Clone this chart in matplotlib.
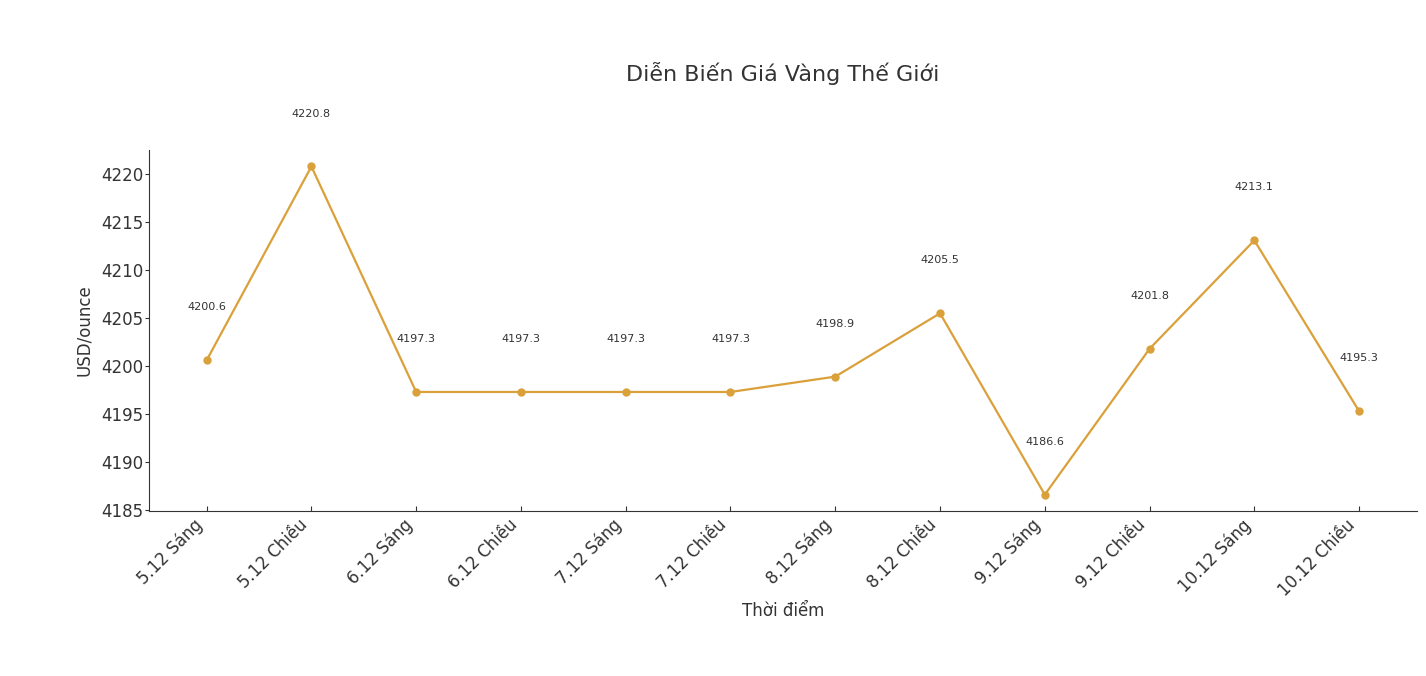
import matplotlib.pyplot as plt

labels = ["5.12 Sáng", "5.12 Chiều", "6.12 Sáng", "6.12 Chiều", "7.12 Sáng", "7.12 Chiều",
          "8.12 Sáng", "8.12 Chiều", "9.12 Sáng", "9.12 Chiều", "10.12 Sáng", "10.12 Chiều"]
prices = [4200.6, 4220.8, 4197.3, 4197.3, 4197.3, 4197.3,
          4198.9, 4205.5, 4186.6, 4201.8, 4213.1, 4195.3]

text_color = '#333333'
line_color = '#DAA03A'

fig = plt.figure(figsize=(14.26, 6.76), dpi=100)
ax = fig.add_axes([0.1045, 0.244, 0.889, 0.534])

x = list(range(len(labels)))
ax.plot(x, prices, color=line_color, marker='o', markersize=5, linewidth=1.6)

# value labels a little above each point
for xi, p in zip(x, prices):
    ax.text(xi, p + 5, f"{p:.1f}", ha='center', va='bottom', fontsize=8, color=text_color)

ax.set_xticks(x)
ax.set_xticklabels(labels, rotation=45, ha='right', fontsize=12, color=text_color)
ax.tick_params(axis='y', labelsize=12, labelcolor=text_color, direction='out',
               color=text_color, length=3, pad=1)
ax.tick_params(axis='x', direction='in', color=text_color)
ax.set_yticks([4185, 4190, 4195, 4200, 4205, 4210, 4215, 4220])

ax.spines['top'].set_visible(False)
ax.spines['right'].set_visible(False)
ax.spines['left'].set_color(text_color)
ax.spines['bottom'].set_color(text_color)

ax.set_title("Diễn Biến Giá Vàng Thế Giới", fontsize=16, color=text_color, pad=50)
ax.set_xlabel("Thời điểm", fontsize=12, color=text_color, labelpad=2)
ax.set_ylabel("USD/ounce", fontsize=12, color=text_color, labelpad=6)

fig.savefig("out.png", dpi=100)
